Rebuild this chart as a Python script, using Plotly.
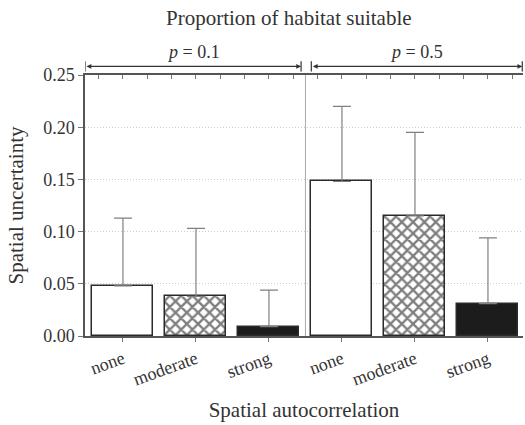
import plotly.graph_objects as go

categories = ["none", "moderate", "strong", "none", "moderate", "strong"]
means = [0.048, 0.038, 0.009, 0.148, 0.115, 0.031]
upper = [0.113, 0.103, 0.044, 0.220, 0.195, 0.094]
group_labels = ["p = 0.1", "p = 0.5"]
y_ticks = [0.00, 0.05, 0.10, 0.15, 0.20, 0.25]

x = list(range(len(categories)))
err_plus = [u - m for u, m in zip(upper, means)]

FONT = "Liberation Serif, Times New Roman, serif"
TXT = "#333333"

styles = [("white", ""), ("white", "x"), ("#1c1c1c", "")]

fig = go.Figure()
for i in range(len(x)):
    col, pat = styles[i % 3]
    fig.add_trace(go.Bar(
        x=[x[i]], y=[means[i]], width=0.835,
        marker=dict(color=col, line=dict(color="#2a2a2a", width=1.5),
                    pattern=dict(shape=pat, fgcolor="#000000", bgcolor="white",
                                 size=8, solidity=0.5) if pat else None),
        error_y=dict(type="data", symmetric=False, array=[err_plus[i]], arrayminus=[0],
                     color="#808080", thickness=1.2, width=9),
        showlegend=False,
    ))

xr = [-0.52, 5.48]
tf = dict(family=FONT, color=TXT, size=18)
fig.update_layout(
    width=525, height=425,
    margin=dict(l=85, r=2, t=75, b=89),
    plot_bgcolor="white", paper_bgcolor="white",
    font=dict(family=FONT, color=TXT, size=18),
    bargap=0,
    xaxis=dict(range=xr, tickvals=x, ticktext=categories, tickangle=-20,
               showline=True, linecolor="#555", linewidth=1.5,
               ticks="outside", ticklen=4, tickcolor="#777",
               showgrid=False, zeroline=False, tickfont=tf,
               title=dict(text="Spatial autocorrelation",
                          font=dict(family=FONT, color=TXT, size=21), standoff=14)),
    xaxis2=dict(range=xr, overlaying="x", side="top", showline=True, linecolor="#555",
                linewidth=1.5, ticks="inside", ticklen=4, tickcolor="#777",
                tickvals=[k / 3 for k in range(-1, 17)], showticklabels=False,
                showgrid=False, zeroline=False),
    yaxis=dict(range=[0, 0.25], tickvals=y_ticks, tickformat=".2f",
               showline=True, linecolor="#555", linewidth=1.5,
               ticks="outside", ticklen=5, tickcolor="#777",
               showgrid=True, gridcolor="#cccccc", griddash="1px,2px", gridwidth=1,
               zeroline=False, tickfont=tf,
               title=dict(text="Spatial uncertainty",
                          font=dict(family=FONT, color=TXT, size=21), standoff=14)),
)
# dummy trace to activate top axis
fig.add_trace(go.Scatter(x=[0], y=[0], xaxis="x2", mode="markers",
                         marker=dict(opacity=0), showlegend=False, hoverinfo="skip"))

# separator
fig.add_shape(type="line", xref="x", yref="paper", x0=2.5, x1=2.5, y0=0, y1=1,
              line=dict(color="#aaaaaa", width=1))

# group arrows
spans = [(-0.52, 2.44), (2.58, 5.47)]
ya = 1.033
for (a, b), lab in zip(spans, group_labels):
    fig.add_annotation(x=b, y=ya, xref="x", yref="paper", ax=a, ay=0,
                       axref="x", ayref="pixel", text="", showarrow=True,
                       arrowhead=2, arrowside="end+start", arrowsize=0.8,
                       arrowwidth=1.2, arrowcolor="#333", standoff=0, startstandoff=0)
    for xe in (a, b):
        fig.add_shape(type="line", xref="x", yref="paper", x0=xe, x1=xe,
                      y0=ya - 0.02, y1=ya + 0.02, line=dict(color="#333", width=1.2))
    p, rest = lab.split(" ", 1)
    fig.add_annotation(x=(a + b) / 2, y=ya + 0.01, xref="x", yref="paper",
                       text="<i>" + p + "</i> " + rest, showarrow=False,
                       yanchor="bottom", font=dict(family=FONT, color=TXT, size=18))

fig.add_annotation(x=0.465, y=1.217, xref="paper", yref="paper",
                   text="Proportion of habitat suitable", showarrow=False,
                   yanchor="middle", font=dict(family=FONT, color=TXT, size=21))

fig.write_html("out.html")
